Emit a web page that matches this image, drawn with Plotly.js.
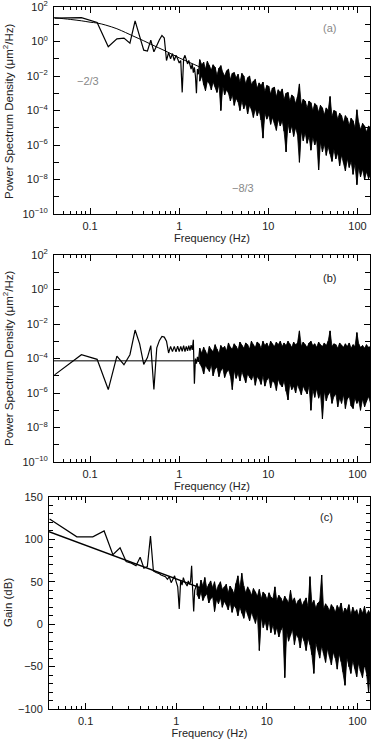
<!DOCTYPE html>
<html><head><meta charset="utf-8">
<script src="https://cdn.plot.ly/plotly-3.0.1.min.js"></script>
<style>html,body{margin:0;padding:0;background:#fff}#chart{width:371px;height:739px}</style>
</head><body><div id="chart"></div>
<script>
// ---- Frequencies (Hz): resolved low-frequency bins, then the dense high-frequency region ----
const fLow = [0.04,0.08,0.12,0.16,0.20,0.24,0.28,0.32,0.36,0.40,0.44,0.48,0.52,0.56,0.60,0.64,0.68,0.72,0.76,0.80,
  0.84,0.88,0.92,0.96,1.00,1.04,1.08,1.12,1.16,1.20,1.24,1.28,1.32,1.36,1.40,1.44,1.48,1.52,1.56,1.60,1.64];
const fDense = [1.70,1.79,1.88,1.97,2.07,2.18,2.29,2.40,2.53,2.65,2.79,2.93,3.08,3.23,3.40,3.57,3.75,3.94,4.14,4.35,
  4.57,4.80,5.05,5.30,5.57,5.85,6.15,6.46,6.79,7.13,7.50,7.88,8.28,8.70,9.14,9.60,10.1,10.6,11.1,11.7,
  12.3,12.9,13.6,14.3,15.0,15.8,16.6,17.4,18.3,19.2,20.2,21.2,22.3,23.4,24.6,25.9,27.2,28.6,30.0,31.5,
  33.1,34.8,36.6,38.4,40.4,42.4,44.6,46.8,49.2,51.7,54.3,57.1,60.0,63.0,66.2,69.6,73.1,76.8,80.7,84.8,
  89.1,93.6,98.4,103,108,114,120,126,133,140];

// ---- Panel (a): PSD, log10(um^2/Hz) ----
const psdA_lowLog = [1.35,1.38,1.1,-0.3,0.15,0.2,-0.1,1.2,0.3,-0.5,-0.55,0.08,-0.6,-0.2,0.1,0.35,0.2,-1.1,-0.65,-1.0,
  -0.7,-1.1,-0.8,-1.0,-1.25,-1.1,-2.95,-1.0,-0.8,-1.05,-1.3,-1.1,-1.45,-1.6,-1.3,-1.8,-1.5,-2.0,-3.0,-1.6,-1.9];
const psdA_hiLog = [-1.05,-1.35,-1.2,-1.6,-1.15,-1.4,-1.65,-1.35,-1.5,-1.95,-1.55,-1.4,-1.8,-2.0,-1.7,-1.6,-2.2,-1.85,-1.8,-2.1,
  -1.9,-2.35,-1.85,-2.0,-2.45,-2.1,-2.0,-2.5,-2.3,-2.2,-2.7,-2.4,-2.55,-2.35,-2.9,-2.55,-2.6,-3.05,-2.7,-2.65,
  -3.2,-2.8,-2.95,-2.75,-3.35,-3.0,-2.95,-3.45,-3.1,-3.2,-3.6,-3.2,-2.46,-3.7,-3.35,-3.45,-3.85,-3.45,-3.55,-4.0,
  -3.6,-3.7,-4.1,-3.7,-3.85,-4.25,-3.85,-4.0,-3.19,-4.35,-4.0,-4.05,-4.5,-4.15,-4.3,-4.7,-4.3,-4.45,-4.85,-4.45,
  -4.6,-5.0,-3.96,-4.7,-5.1,-4.75,-4.9,-5.25,-4.9,-5.0];
const psdA_loLog = [-2.3,-2.0,-2.5,-2.85,-2.3,-2.45,-2.8,-2.35,-2.6,-2.95,-2.5,-4.0,-2.6,-3.1,-2.8,-3.0,-3.45,-3.1,-3.7,-3.3,
  -3.5,-4.0,-3.45,-3.9,-3.6,-4.2,-3.7,-3.95,-4.4,-3.9,-4.3,-4.0,-4.55,-5.6,-4.15,-4.5,-4.25,-4.8,-4.4,-4.7,
  -5.15,-4.5,-4.9,-4.6,-5.2,-6.4,-4.75,-5.3,-4.9,-5.5,-5.0,-5.4,-7.0,-5.2,-5.75,-5.3,-5.9,-5.5,-6.3,-5.55,
  -6.0,-5.7,-7.45,-5.85,-6.4,-5.95,-6.6,-6.1,-6.5,-6.95,-6.25,-6.8,-6.45,-7.2,-6.6,-7.0,-7.5,-6.8,-7.3,-6.95,
  -7.7,-7.1,-8.3,-7.3,-7.85,-7.4,-8.0,-7.55,-7.95,-7.7];
const fitA_f = [0.0394,0.06,0.08,0.1,0.12,0.15,0.2,0.25,0.3,0.4,0.5,0.7,1.0,1.5,2.0,3.0,4.45,5.0,10,20,50,100,140];
const fitA_log = [1.38,1.28,1.2,1.12,1.07,0.95,0.74,0.52,0.33,0.04,-0.2,-0.55,-0.95,-1.35,-1.65,-2.1,-2.56,-2.7,-3.5,-4.3,-5.37,-6.17,-6.56];

// ---- Panel (b): PSD, log10(um^2/Hz) ----
const psdB_lowLog = [-4.95,-3.78,-4.05,-5.8,-3.86,-4.36,-3.78,-2.35,-3.15,-4.34,-3.95,-3.25,-5.8,-3.38,-2.95,-2.72,-2.76,-3.0,-3.68,-3.3,
  -3.6,-3.3,-3.62,-3.28,-3.6,-3.3,-3.58,-3.25,-3.6,-3.3,-3.55,-3.25,-3.55,-3.22,-3.5,-2.92,-5.46,-4.0,-4.3,-3.9,-4.2];
const psdB_hiLog = [-3.4,-3.7,-3.35,-3.55,-3.8,-3.3,-3.5,-3.6,-3.2,-3.45,-3.7,-3.25,-3.4,-3.3,-3.55,-3.1,-3.35,-3.45,-3.15,-3.3,
  -3.5,-3.05,-3.25,-3.4,-3.1,-3.2,-3.45,-3.0,-3.2,-3.35,-3.05,-3.15,-3.4,-3.0,-3.25,-3.1,-3.35,-3.0,-3.15,-3.3,
  -3.05,-3.2,-3.0,-3.3,-3.1,-3.25,-3.0,-3.15,-3.35,-3.05,-3.2,-3.1,-2.4,-3.3,-3.05,-3.2,-3.35,-3.1,-3.0,-3.25,
  -3.15,-3.35,-3.05,-3.2,-3.3,-3.1,-3.25,-3.0,-2.4,-3.3,-3.15,-3.2,-3.4,-3.1,-3.25,-3.35,-3.15,-3.3,-3.1,-3.4,
  -3.2,-3.3,-2.5,-3.15,-3.35,-3.25,-3.4,-3.2,-3.35,-3.3];
const psdB_loLog = [-4.3,-4.5,-4.9,-4.4,-4.6,-4.75,-4.35,-5.0,-4.6,-4.5,-5.05,-4.7,-4.55,-5.1,-4.8,-4.65,-5.0,-5.8,-4.7,-5.15,
  -4.85,-5.3,-4.75,-5.0,-5.4,-4.9,-5.1,-5.25,-4.95,-5.55,-5.05,-5.2,-5.5,-5.0,-5.6,-5.25,-5.1,-5.7,-5.3,-5.4,
  -5.85,-5.2,-5.5,-5.65,-5.3,-5.9,-6.4,-5.45,-5.8,-5.6,-6.0,-5.5,-5.75,-6.1,-5.6,-5.85,-6.05,-5.6,-7.0,-5.8,
  -6.25,-5.75,-6.3,-6.0,-7.5,-5.9,-6.45,-6.1,-5.95,-6.6,-6.2,-6.05,-6.8,-6.3,-6.6,-6.1,-6.9,-6.35,-6.2,-6.75,
  -6.9,-6.3,-6.6,-6.4,-7.0,-6.35,-6.8,-6.5,-6.2,-6.6];
const fitB_f = [0.0394,140];
const fitB_psd = [7.4e-5,7.4e-5];

// ---- Panel (c): Gain, dB ----
const gainC_low = [124,103,103,110,82,90,74,72,69,79,66,68,104,63,61,60,58,57,56,53,
  56,49,53,57,50,44,18,52,46,55,50,47,45,51,47,50,69,40,15,40,44];
const gainC_hi = [48,40,52,45,55,42,47,51,43,50,39,46,50,41,44,47,37,45,41,36,
  48,57,42,60,45,37,44,40,34,42,38,33,41,30,38,35,29,37,32,30,
  44,28,34,31,26,33,29,25,40,27,31,23,28,30,22,27,31,20,56,24,
  28,19,25,27,58,18,24,21,16,23,20,14,22,18,25,13,19,16,23,11,
  20,14,17,10,19,13,21,11,16,12];
const gainC_lo = [35,30,38,28,33,36,25,30,32,15,29,24,31,20,27,23,17,26,14,22,
  19,10,20,13,7,18,12,4,14,8,1,11,-31,8,-4,3,-7,4,-10,-1,
  -12,-4,-15,-7,-3,-63,-9,-20,-13,-6,-24,-12,-16,-28,-14,-20,-31,-17,-24,-36,
  -58,-22,-30,-40,-26,-34,-45,-29,-38,-48,-33,-40,-53,-35,-44,-56,-72,-40,-50,-58,
  -43,-52,-62,-46,-55,-63,-48,-57,-80,-50];
const fitC_f = [0.0394,140];
const fitC_db = [109,-31.5];

// ---- axis ticks ----
const fTickVals = [0.1,1,10,100];
const fTickText = ['0.1','1','10','100'];
const fMinorVals = [0.04,0.05,0.06,0.07,0.08,0.09,0.2,0.3,0.4,0.5,0.6,0.7,0.8,0.9,2,3,4,5,6,7,8,9,20,30,40,50,60,70,80,90];
const psdTickVals = [1e-10,1e-8,1e-6,1e-4,1e-2,1e0,1e2];
const psdTickText = ['10<sup>−10</sup>','10<sup>−8</sup>','10<sup>−6</sup>','10<sup>−4</sup>','10<sup>−2</sup>','10<sup>0</sup>','10<sup>2</sup>'];
const psdMinorVals = [1e-9,1e-7,1e-5,1e-3,1e-1,1e1];
const gainTickVals = [-100,-50,0,50,100,150];
const gainTickText = ['−100','−50','0','50','100','150'];

// ---- build traces ----
const pow10 = v => Math.pow(10, v);
const id = v => v;
function lowLine(vals, conv) { return {x: fLow.slice(), y: vals.map(conv)}; }
function spikes(hiVals, loVals, conv) {
  const x = [], y = [];
  for (let i = 0; i < fDense.length; i++) {
    x.push(fDense[i], fDense[i]);
    y.push(conv(hiVals[i]), conv(loVals[i]));
  }
  return {x, y};
}
function band(hiVals, loVals, conv) {
  const x = fDense.concat(fDense.slice().reverse());
  const y = hiVals.map(conv).concat(loVals.map(conv).reverse());
  return {x, y};
}
const dataLine = {color:'#000', width:1.2};
function panelTraces(lowVals, hiVals, loVals, conv, xa, ya) {
  const L = lowLine(lowVals, conv), S = spikes(hiVals, loVals, conv), B = band(hiVals, loVals, conv);
  L.x.push(fDense[0]); L.y.push(conv(hiVals[0]));
  return [
    {x:L.x, y:L.y, xaxis:xa, yaxis:ya, mode:'lines', line:dataLine, hoverinfo:'skip'},
    {x:B.x, y:B.y, xaxis:xa, yaxis:ya, mode:'lines', fill:'toself', fillcolor:'#000', line:{color:'#000', width:0.8}, hoverinfo:'skip'},
    {x:S.x, y:S.y, xaxis:xa, yaxis:ya, mode:'lines', line:{color:'#000', width:1}, hoverinfo:'skip'}
  ];
}
const traces = [].concat(
  [{x:fitA_f, y:fitA_log.map(pow10), xaxis:'x', yaxis:'y', mode:'lines', line:{color:'#000', width:1, shape:'spline'}, hoverinfo:'skip'}],
  panelTraces(psdA_lowLog, psdA_hiLog, psdA_loLog, pow10, 'x', 'y'),
  [{x:fitB_f, y:fitB_psd, xaxis:'x2', yaxis:'y2', mode:'lines', line:{color:'#555', width:1.5}, hoverinfo:'skip'}],
  panelTraces(psdB_lowLog, psdB_hiLog, psdB_loLog, pow10, 'x2', 'y2'),
  [{x:fitC_f, y:fitC_db, xaxis:'x3', yaxis:'y3', mode:'lines', line:{color:'#000', width:1.5}, hoverinfo:'skip'}],
  panelTraces(gainC_low, gainC_hi, gainC_lo, id, 'x3', 'y3')
);

// ---- layout ----
const W = 371, H = 739;
const xd = (l, r) => [l / W, r / W];
const yd = (top, bottom) => [1 - bottom / H, 1 - top / H];
const FONT = 'Liberation Sans, Arial, sans-serif';
const tf = {family:FONT, size:11, color:'#222'};

function xAxis(anchor, domain) {
  return {type:'log', range:[Math.log10(0.0394), Math.log10(138)], domain, anchor,
    tickmode:'array', tickvals:fTickVals, ticktext:fTickText,
    ticks:'inside', ticklen:6, tickwidth:1, tickcolor:'#000',
    showline:true, linecolor:'#000', linewidth:1, mirror:'allticks',
    showgrid:false, zeroline:false, tickfont:tf, ticklabelstandoff:2, ticklabeloverflow:'allow',
    minor:{tickmode:'array', tickvals:fMinorVals, ticks:'inside', ticklen:3, tickwidth:1, tickcolor:'#000', showgrid:false},
    title:{text:'Frequency (Hz)', font:tf, standoff:3}};
}
function yPsd(anchor, domain) {
  return {type:'log', range:[-10, 2], domain, anchor,
    tickmode:'array', tickvals:psdTickVals, ticktext:psdTickText,
    ticks:'inside', ticklen:6, tickwidth:1, tickcolor:'#000',
    showline:true, linecolor:'#000', linewidth:1, mirror:'allticks',
    showgrid:false, zeroline:false, tickfont:tf, ticklabelstandoff:3, ticklabeloverflow:'allow',
    minor:{tickmode:'array', tickvals:psdMinorVals, ticks:'inside', ticklen:5, tickwidth:1, tickcolor:'#000', showgrid:false}};
}
const grey = {family:FONT, size:11, color:'#888'};
const ttl = {family:FONT, size:11.5, color:'#222'};
const layout = {
  width:W, height:H, margin:{l:0, r:0, t:0, b:0},
  paper_bgcolor:'#fff', plot_bgcolor:'#fff', showlegend:false,
  font:tf,
  xaxis:xAxis('y', xd(54, 370)),
  yaxis:yPsd('x', yd(7, 214)),
  xaxis2:xAxis('y2', xd(54, 370)),
  yaxis2:yPsd('x2', yd(255, 462)),
  xaxis3:xAxis('y3', xd(49, 370)),
  yaxis3:{range:[-100, 150], domain:yd(497, 709), anchor:'x3',
    tickmode:'array', tickvals:gainTickVals, ticktext:gainTickText,
    ticks:'inside', ticklen:6, tickwidth:1, tickcolor:'#000',
    showline:true, linecolor:'#000', linewidth:1, mirror:'allticks',
    showgrid:false, zeroline:false, tickfont:tf, ticklabelstandoff:3, ticklabeloverflow:'allow',
    minor:{dtick:10, ticks:'inside', ticklen:4, tickwidth:1, tickcolor:'#000', showgrid:false}},
  annotations:[
    {text:'Power Spectrum Density (μm<sup>2</sup>/Hz)', xref:'paper', yref:'paper', x:8/W, y:1-111/H, textangle:-90, showarrow:false, font:ttl, xanchor:'center', yanchor:'middle'},
    {text:'Power Spectrum Density (μm<sup>2</sup>/Hz)', xref:'paper', yref:'paper', x:8/W, y:1-358/H, textangle:-90, showarrow:false, font:ttl, xanchor:'center', yanchor:'middle'},
    {text:'Gain (dB)', xref:'paper', yref:'paper', x:8/W, y:1-603/H, textangle:-90, showarrow:false, font:ttl, xanchor:'center', yanchor:'middle'},
    {text:'(a)', xref:'paper', yref:'paper', x:338/W, y:1-20/H, showarrow:false, font:grey},
    {text:'−2/3', xref:'paper', yref:'paper', x:75/W, y:1-73/H, showarrow:false, font:grey},
    {text:'−8/3', xref:'paper', yref:'paper', x:256/W, y:1-180/H, showarrow:false, font:grey},
    {text:'(b)', xref:'paper', yref:'paper', x:338/W, y:1-278/H, showarrow:false, font:tf},
    {text:'(c)', xref:'paper', yref:'paper', x:335/W, y:1-525/H, showarrow:false, font:tf}
  ]
};
Plotly.newPlot('chart', traces, layout, {displayModeBar:false, staticPlot:true});
</script></body></html>
